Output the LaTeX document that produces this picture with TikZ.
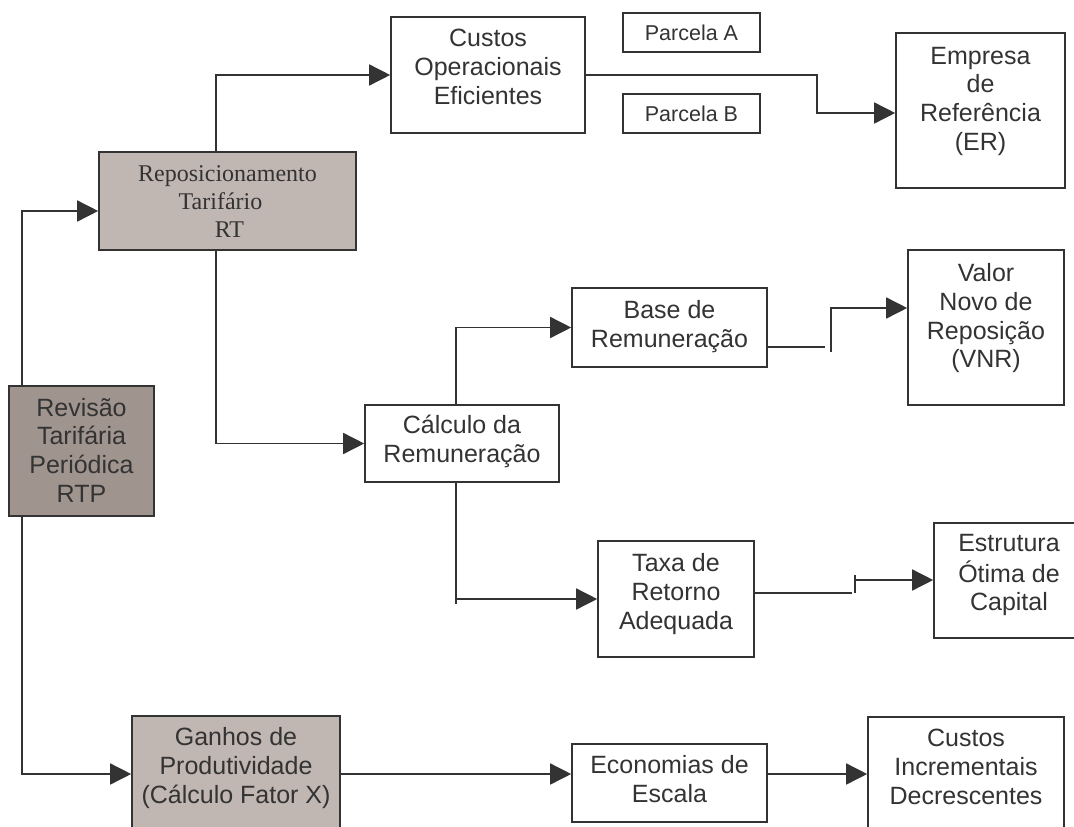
\documentclass[tikz,border=0pt]{standalone}
\usepackage{fontspec}
\setmainfont{Liberation Sans}
\newfontfamily\serifRT{Liberation Serif}
\usetikzlibrary{arrows.meta,calc}
\definecolor{linec}{HTML}{333333}
\definecolor{textc}{HTML}{333333}
\definecolor{darkfill}{HTML}{A0948F}
\definecolor{lightfill}{HTML}{C0B6B2}
\newcommand{\shiftup}[2]{\raisebox{#1}[\height][\depth]{\begin{tabular}{@{}c@{}}#2\end{tabular}}}
\begin{document}
\begin{tikzpicture}[x=1pt,y=-1pt,
  box/.style={draw=linec, line width=1.6pt, inner sep=0pt, text=textc, font=\fontsize{25}{28.8}\selectfont},
  smallbox/.style={box, font=\fontsize{21.5}{25}\selectfont},
  arr/.style={draw=linec, line width=1.5pt, -{Triangle[length=21pt,width=21pt]}},
  ln/.style={draw=linec, line width=1.5pt}]
\useasboundingbox (0,0) rectangle (1074,827);
\begin{scope}
\clip (0,0) rectangle (1074,827);
% boxes
\node[box, fill=darkfill, minimum width=145pt, minimum height=130pt] (RTP) at (81.5,451) {\shiftup{-2.5pt}{Revisão\\Tarifária\\Periódica\\RTP}};
\node[box, fill=lightfill, minimum width=257pt, minimum height=98pt, font=\serifRT\fontsize{24}{28}\selectfont] (RT) at (227.5,201) {\shiftup{-3pt}{Reposicionamento\\Tarifário\hspace*{14pt}\\\hspace*{4pt}RT}};
\node[box, minimum width=194pt, minimum height=116pt] (CO) at (488,75) {\shiftup{5pt}{Custos\\Operacionais\\Eficientes}};
\node[smallbox, minimum width=137pt, minimum height=39pt] (PA) at (691.5,32.5) {Parcela A};
\node[smallbox, minimum width=137pt, minimum height=39pt] (PB) at (691.5,113.5) {Parcela B};
\node[box, minimum width=169pt, minimum height=155pt] (ER) at (980.5,110.5) {\shiftup{9pt}{Empresa\\de\\Referência\\(ER)}};
\node[box, minimum width=195pt, minimum height=79pt] (Base) at (669.5,327.5) {\shiftup{0pt}{Base de\\Remuneração}};
\node[box, minimum width=156pt, minimum height=155pt] (VNR) at (986,327.5) {\shiftup{8.5pt}{Valor\\Novo de\\Reposição\\(VNR)}};
\node[box, minimum width=194pt, minimum height=77pt] (Calc) at (462,443.5) {\shiftup{1pt}{Cálculo da\\Remuneração}};
\node[box, minimum width=156pt, minimum height=116pt] (Taxa) at (676,599) {\shiftup{4pt}{Taxa de\\Retorno\\Adequada}};
\node[box, minimum width=150pt, minimum height=115pt] (Estr) at (1009,580.5) {\shiftup{5pt}{Estrutura\\Ótima de\\Capital}};
\node[box, fill=lightfill, minimum width=208pt, minimum height=124pt] (Gan) at (236,778) {\shiftup{9pt}{Ganhos de\\Produtividade\\(Cálculo Fator X)}};
\node[box, minimum width=195pt, minimum height=78pt] (Econ) at (669.5,783) {\shiftup{1pt}{Economias de\\Escala}};
\node[box, minimum width=196pt, minimum height=124pt] (CI) at (966,779) {\shiftup{9pt}{Custos\\Incrementais\\Decrescentes}};
% helper coordinates
\coordinate (k1) at (22,211);
\coordinate (k2) at (216,75);
\coordinate (k3) at (817,113);
\coordinate (k5) at (456,327);
\coordinate (t1) at (825,347);
\coordinate (t2a) at (831,352);
\coordinate (t2b) at (831,308);
\coordinate (k7) at (456,604);
\coordinate (k7b) at (456,599);
\coordinate (t3) at (852,593);
\coordinate (t4a) at (855,575);
\coordinate (t4b) at (855,593);
\coordinate (t4c) at (855,580);
\coordinate (k9) at (22,774);
% connectors
\draw[arr] (RTP.north -| k1) |- (RT.west |- k1);
\draw[arr] (RT.north -| k2) |- (CO.west);
\draw[arr] (CO.east) -| (k3) -- (ER.west |- k3);
\draw[arr] (RT.south -| k2) |- (Calc.west);
\draw[arr] (Calc.north -| k5) |- (Base.west);
\draw[ln] (Base.east |- t1) -- (t1);
\draw[arr] (t2a) |- (VNR.west |- t2b);
\draw[ln] (Calc.south -| k5) -- (k7);
\draw[arr] (k7b) -- (Taxa.west);
\draw[ln] (Taxa.east |- t3) -- (t3);
\draw[ln] (t4a) -- (t4b);
\draw[arr] (t4c) -- (Estr.west |- t4c);
\draw[arr] (RTP.south -| k9) |- (Gan.west |- k9);
\draw[arr] (Gan.east |- k9) -- (Econ.west |- k9);
\draw[arr] (Econ.east |- k9) -- (CI.west |- k9);
\end{scope}
\end{tikzpicture}
\end{document}
